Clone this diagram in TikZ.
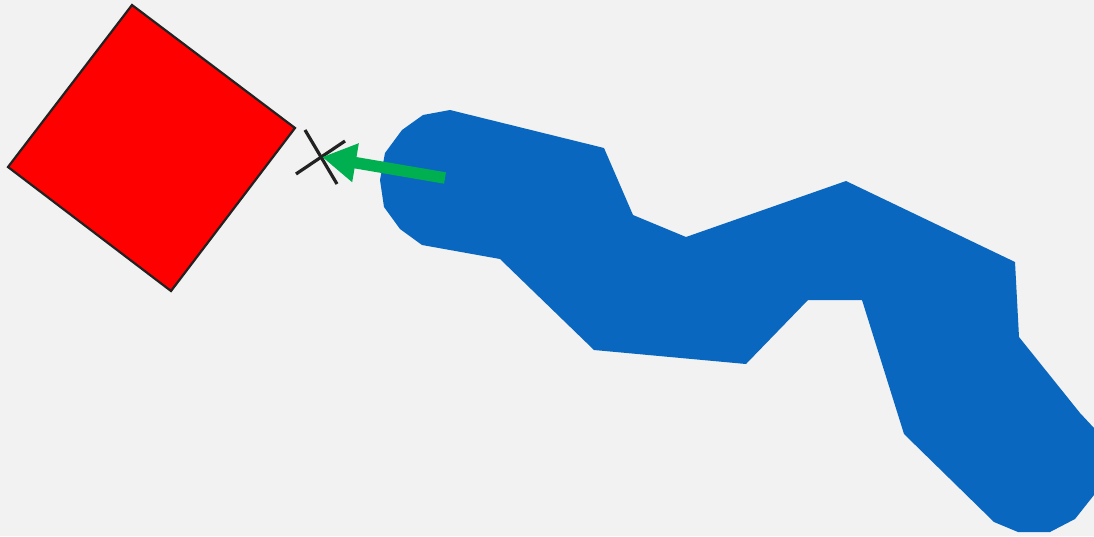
\documentclass[tikz,border=0pt]{standalone}
\usetikzlibrary{arrows.meta}
\definecolor{bg}{HTML}{F2F2F2}
\definecolor{blueblob}{HTML}{0A67C0}
\definecolor{greenarrow}{HTML}{00B050}
\definecolor{darkline}{HTML}{222222}
\tikzset{
  square/.style={fill=red, draw=darkline, line width=2.2pt, line join=miter},
  blob/.style={fill=blueblob, draw=none},
  cross/.style={draw=darkline, line width=3.2pt},
  greenarr/.style={draw=greenarrow, line width=11.5pt, -{Triangle[length=34pt,width=37pt]}}
}
\begin{document}
\begin{tikzpicture}[x=1pt,y=-1pt]
\useasboundingbox (0,0) rectangle (1094,536);
\fill[bg] (0,0) rectangle (1094,536);
% red square
\draw[square] (132,5) -- (295,128) -- (171,291) -- (8,167) -- cycle;
% blue blob
\fill[blob] (450,110) -- (604,148) -- (633,215) -- (686,237) -- (846,181) -- (1015,262)
  -- (1019,337) -- (1080,413) -- (1094,428) -- (1094,495) -- (1075,519) -- (1050,532)
  -- (1018,532) -- (994,522) -- (904,434) -- (862,300) -- (808,300) -- (746,364)
  -- (594,350) -- (500,259) -- (422,245) -- (400,229) -- (384,207) -- (380,180)
  -- (385,153) -- (402,130) -- (423,115) -- cycle;
% cross
\coordinate (c1a) at (305,130);
\coordinate (c1b) at (337,184);
\coordinate (c2a) at (296,174);
\coordinate (c2b) at (345,141);
\draw[cross] (c1a) -- (c1b);
\draw[cross] (c2a) -- (c2b);
% green arrow
\coordinate (arrstart) at (445,178);
\coordinate (arrtip) at (322,157);
\draw[greenarr] (arrstart) -- (arrtip);
\end{tikzpicture}
\end{document}
